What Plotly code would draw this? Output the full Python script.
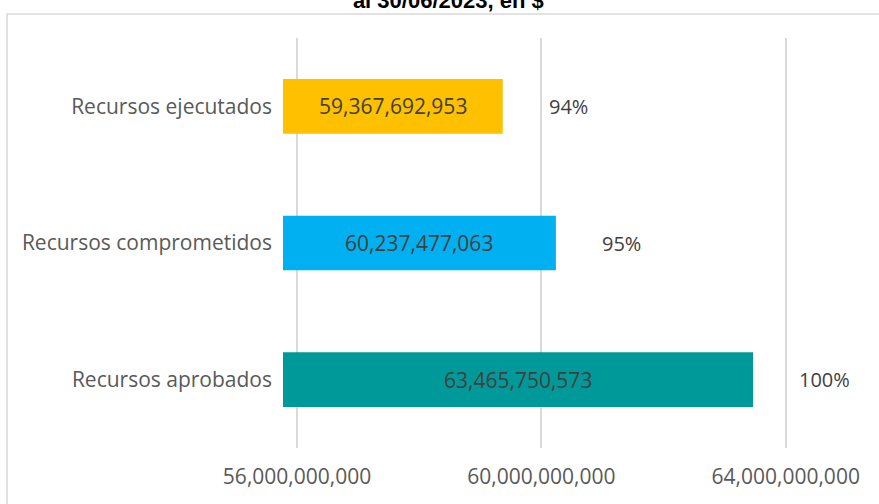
import plotly.graph_objects as go

categories = ["Recursos aprobados", "Recursos comprometidos", "Recursos ejecutados"]
values = [63465750573, 60237477063, 59367692953]
colors = ["#009999", "#00B0F0", "#FFC000"]
tick_vals = [56e9, 60e9, 64e9]
tick_text = ["56,000,000,000", "60,000,000,000", "64,000,000,000"]
title_text = "al 30/06/2023, en $"

x_range = [55.77e9, 65.2e9]
total = values[0]
pcts = [f"{round(v / total * 100):.0f}%" for v in values]

font_family = "'Open Sans', sans-serif"
gray = "#595959"
dark = "#404040"

fig = go.Figure()
fig.add_trace(go.Bar(
    y=categories,
    x=values,
    orientation="h",
    marker=dict(color=colors, line=dict(width=0)),
    width=0.4,
    hoverinfo="skip",
))

for c, v, p in zip(categories, values, pcts):
    # value label centred on the visible part of the bar
    fig.add_annotation(x=(x_range[0] + v) / 2, y=c, text=f"{v:,}", showarrow=False,
                       xanchor="center", font=dict(family=font_family, size=21, color=dark))
    # percentage label to the right of the bar
    fig.add_annotation(x=v, y=c, text=p, showarrow=False, xanchor="left",
                       xshift=44, font=dict(family=font_family, size=20, color=dark))

fig.update_layout(
    width=879, height=504,
    margin=dict(l=283, r=20, t=38, b=56),
    paper_bgcolor="white", plot_bgcolor="white",
    showlegend=False,
    title=dict(text=title_text, x=0.51, xanchor="center", xref="container",
               y=1.0, yref="container", yanchor="middle",
               font=dict(family="Liberation Sans, Arial", size=22, color="#000000", weight="bold")),
    shapes=[dict(type="rect", xref="paper", yref="paper",
                 x0=-0.479, x1=1.2, y0=-0.3, y1=1.0585,
                 line=dict(color="#D9D9D9", width=1.5), fillcolor="rgba(0,0,0,0)", layer="below")],
)
fig.update_xaxes(range=x_range, tickvals=tick_vals, ticktext=tick_text,
                 showgrid=True, gridcolor="#D9D9D9", gridwidth=1.5, zeroline=False,
                 showline=False, ticks="", ticklabelstandoff=14,
                 tickfont=dict(family=font_family, size=21, color=gray))
fig.update_yaxes(range=[-0.5, 2.5], showgrid=False, zeroline=False, showline=False,
                 ticks="", ticklabelstandoff=10,
                 tickfont=dict(family=font_family, size=21, color=gray))

fig.write_html("out.html", config={"displayModeBar": False},
               post_script="document.body.style.margin='0';")
